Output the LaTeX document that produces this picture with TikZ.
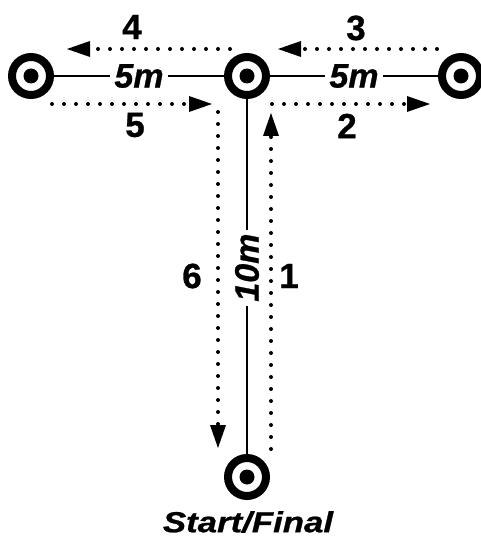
\documentclass[tikz,border=0pt]{standalone}
\usepackage{fontspec}
\setmainfont{Liberation Sans}[BoldFeatures={FakeBold=0.8},BoldItalicFeatures={FakeBold=0.8}]
\usetikzlibrary{arrows.meta}
\begin{document}
\begin{tikzpicture}[x=1pt,y=-1pt,
 target/.style={circle,draw=black,line width=8pt,fill=white,minimum size=38pt,inner sep=0pt,
   path picture={\fill[black] (path picture bounding box.center) circle (7.5pt);}},
 seg/.style={line width=2pt},
 dimlbl/.style={fill=white,inner xsep=4pt,inner ysep=1pt,font=\fontsize{34pt}{36pt}\selectfont\bfseries\itshape},
 num/.style={font=\fontsize{35pt}{38pt}\selectfont\bfseries,inner sep=0pt},
 walk/.style={line width=4pt,line cap=round,dash pattern=on 0pt off 12pt,
   -{Triangle[length=23pt,width=16pt,line width=0pt]}}]
\useasboundingbox (0,0) rectangle (480,537);
% targets
\node[target] (L) at (31,76) {};
\node[target] (C) at (247,76) {};
\node[target] (R) at (461,76) {};
\node[target] (B) at (247,477) {};
% measured segments
\draw[seg] (L) -- node[dimlbl] {5m} (C);
\draw[seg] (C) -- node[dimlbl] {5m} (R);
\draw[seg] (C) -- node[dimlbl,rotate=90,pos=0.475] {10m} (B);
% walking route coordinates
\coordinate (p1s) at (271,449); \coordinate (p1e) at (271,113);
\coordinate (p2s) at (272,104); \coordinate (p2e) at (430,104);
\coordinate (p3s) at (437,49);  \coordinate (p3e) at (278,49);
\coordinate (p4s) at (230,49);  \coordinate (p4e) at (67,49);
\coordinate (p5s) at (52,104);  \coordinate (p5e) at (212,104);
\coordinate (p6s) at (218,112); \coordinate (p6e) at (218,448);
\draw[walk] (p1s) -- (p1e);
\draw[walk] (p2s) -- (p2e);
\draw[walk] (p3s) -- (p3e);
\draw[walk] (p4s) -- (p4e);
\draw[walk] (p5s) -- (p5e);
\draw[walk] (p6s) -- (p6e);
% step numbers
\node[num] (n1) at (289,276) {1};
\node[num] (n2) at (347,126) {2};
\node[num] (n3) at (356,28) {3};
\node[num] (n4) at (132,27) {4};
\node[num] (n5) at (135,125) {5};
\node[num] (n6) at (192,276) {6};
% caption
\node[inner sep=0pt,xscale=1.2,font=\fontsize{29pt}{32pt}\selectfont\bfseries\itshape] (cap) at (248,522) {Start/Final};
\end{tikzpicture}
\end{document}
